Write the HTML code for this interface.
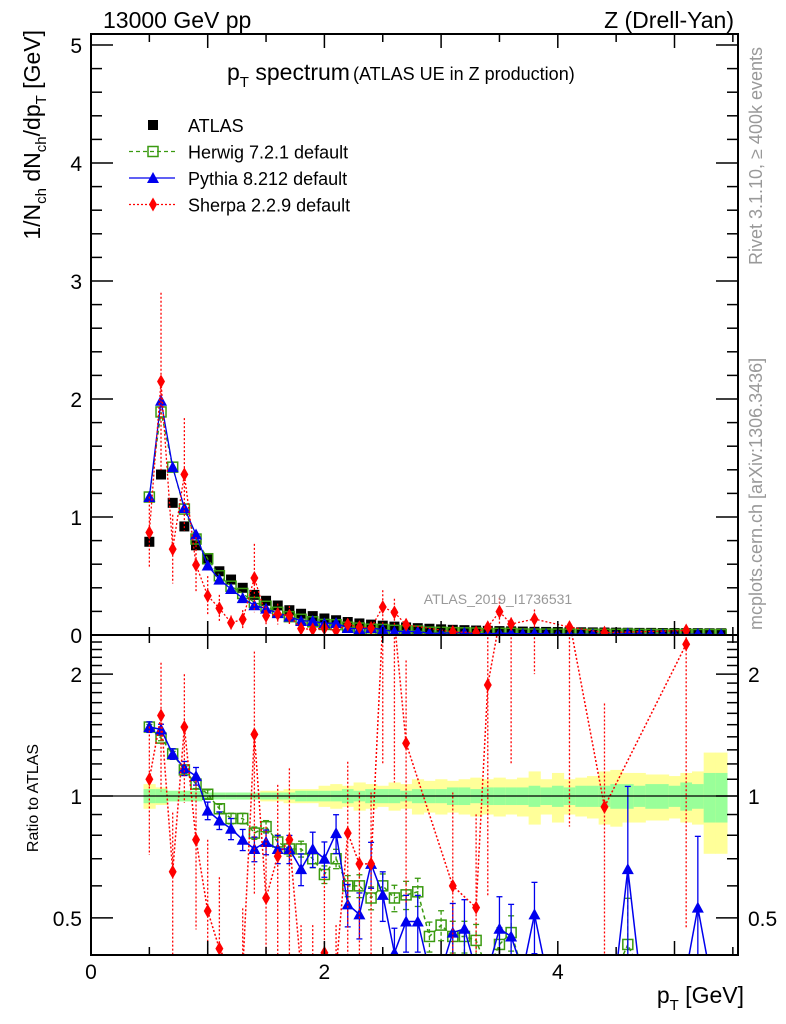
<!DOCTYPE html>
<html><head><meta charset="utf-8"><style>
html,body{margin:0;padding:0;background:#fff;overflow:hidden;width:786px;height:1024px}
svg{display:block;font-family:"Liberation Sans",sans-serif}
</style></head><body>
<svg id="c" width="786" height="1024" viewBox="0 0 786 1024">
<defs>
<clipPath id="cm"><rect x="91" y="34" width="647" height="601"/></clipPath>
<clipPath id="cr"><rect x="91" y="635" width="647" height="320"/></clipPath>
</defs>
<g id="bands" clip-path="url(#cr)"></g>
<g id="main" clip-path="url(#cm)"></g>
<g id="ratio" clip-path="url(#cr)"></g>
<g id="axes"></g>
<text x="103" y="28" font-size="23">13000 GeV pp</text>
<text x="734" y="28" font-size="23" text-anchor="end">Z (Drell-Yan)</text>
<text x="227" y="80" font-size="23">p<tspan font-size="15" dy="7">T</tspan><tspan dy="-7"> spectrum</tspan><tspan font-size="18" dx="3">(ATLAS UE in Z production)</tspan></text>
<text x="498" y="604" font-size="14" fill="#999" text-anchor="middle">ATLAS_2019_I1736531</text>
<text transform="translate(762,265) rotate(-90)" font-size="18" fill="#999">Rivet 3.1.10, ≥ 400k events</text>
<text transform="translate(762,630) rotate(-90)" font-size="18" fill="#999">mcplots.cern.ch [arXiv:1306.3436]</text>
<text transform="translate(40,30) rotate(-90)" font-size="23" text-anchor="end">1/N<tspan font-size="15" dy="6">ch</tspan><tspan dy="-6"> dN</tspan><tspan font-size="15" dy="6">ch</tspan><tspan dy="-6">/dp</tspan><tspan font-size="15" dy="6">T</tspan><tspan dy="-6"> [GeV]</tspan></text>
<text transform="translate(38,798) rotate(-90)" font-size="16" text-anchor="middle">Ratio to ATLAS</text>
<text x="744" y="1003" font-size="23" text-anchor="end">p<tspan font-size="15" dy="7">T</tspan><tspan dy="-7"> [GeV]</tspan></text>
<g id="legend"></g>
</svg>
<script>
const xs=[0.5,0.6,0.7,0.8,0.9,1.0,1.1,1.2,1.3,1.4,1.5,1.6,1.7,1.8,1.9,2.0,2.1,2.2,2.3,2.4,2.5,2.6,2.7,2.8,2.9,3.0,3.1,3.2,3.3,3.4,3.5,3.6,3.7,3.8,3.9,4.0,4.1,4.2,4.3,4.4,4.5,4.6,4.7,4.8,4.9,5.0,5.1,5.2,5.3,5.4];
const atlas=[0.79,1.36,1.12,0.92,0.76,0.64,0.54,0.47,0.40,0.34,0.29,0.25,0.21,0.18,0.16,0.14,0.125,0.11,0.098,0.088,0.079,0.071,0.064,0.058,0.053,0.048,0.044,0.041,0.038,0.035,0.033,0.031,0.029,0.027,0.026,0.025,0.024,0.023,0.022,0.021,0.020,0.019,0.018,0.018,0.017,0.017,0.016,0.016,0.015,0.015];
const herwigRatio=[1.48,1.39,1.27,1.16,1.07,1.01,0.93,0.88,0.88,0.81,0.84,0.77,0.74,0.74,0.70,0.64,0.70,0.60,0.60,0.56,0.60,0.56,0.57,0.58,0.45,0.48,0.45,0.45,0.44,0.3,0.43,0.46,0.3,0.3,0.3,0.3,0.3,0.3,0.3,0.3,0.3,0.43,0.3,0.3,0.3,0.3,0.3,0.3,0.3,0.3];
const pythiaRatio=[1.48,1.46,1.27,1.17,1.12,0.92,0.87,0.83,0.78,0.74,0.77,0.74,0.74,0.66,0.74,0.70,0.81,0.54,0.51,0.68,0.57,0.41,0.49,0.49,0.3,0.3,0.46,0.47,0.3,0.3,0.47,0.45,0.3,0.51,0.3,0.3,0.3,0.3,0.3,0.3,0.3,0.66,0.3,0.3,0.3,0.3,0.3,0.53,0.3,0.3];
const sherpaRatio=[1.10,1.58,0.65,1.48,0.78,0.52,0.42,0.22,0.33,1.42,0.56,0.71,0.78,0.3,0.3,0.41,0.3,0.81,0.68,0.68,3.0,2.7,1.35,null,null,null,0.60,null,0.53,1.88,6.0,3.0,null,5.0,null,null,2.8,null,null,0.94,null,null,null,null,null,null,2.37,null,null,null];
const sherpaErr=[0.35,0.35,0.4,0.35,0.4,0.5,0.5,0.6,0.6,0.6,0.5,0.5,0.5,0.6,0.6,0.6,0.6,0.5,0.5,0.5,0.6,0.6,0.6,0,0,0,0.7,0,0.7,0.7,0.6,0.6,0,0.6,0,0,0.7,0,0,0.8,0,0,0,0,0,0,0.8,0,0,0];
const pythiaErr=[0.03,0.03,0.03,0.04,0.05,0.05,0.05,0.06,0.06,0.07,0.07,0.08,0.08,0.09,0.10,0.10,0.11,0.12,0.13,0.13,0.14,0.15,0.16,0.16,0.17,0.17,0.18,0.18,0.19,0.19,0.2,0.2,0.2,0.2,0.2,0.2,0.2,0.2,0.2,0.2,0.2,0.6,0.2,0.2,0.2,0.2,0.2,0.5,0.2,0.2];
const statBand=[0.04,0.04,0.03,0.03,0.03,0.02,0.02,0.02,0.02,0.02,0.02,0.02,0.02,0.03,0.03,0.03,0.03,0.04,0.03,0.04,0.04,0.04,0.03,0.04,0.04,0.04,0.05,0.05,0.04,0.05,0.05,0.05,0.05,0.06,0.05,0.06,0.05,0.06,0.06,0.06,0.07,0.07,0.06,0.07,0.07,0.06,0.08,0.07,0.14,0.14];
const totBand=[0.07,0.05,0.03,0.03,0.02,0.02,0.02,0.02,0.02,0.02,0.03,0.03,0.04,0.04,0.04,0.06,0.07,0.06,0.08,0.07,0.06,0.08,0.07,0.10,0.09,0.10,0.09,0.10,0.11,0.10,0.11,0.10,0.11,0.15,0.10,0.14,0.10,0.11,0.12,0.15,0.16,0.14,0.14,0.13,0.13,0.12,0.14,0.15,0.28,0.28];

const NS='http://www.w3.org/2000/svg';
const X=v=>91+v*116.7;
const Y=v=>635-Math.min(Math.max(v,-0.05),5.2)*118;
const R=v=>796-405*Math.log10(Math.min(Math.max(v,0.37),2.7));
function mk(t,a,p){const e=document.createElementNS(NS,t);for(const k in a)e.setAttribute(k,a[k]);(p||document.getElementById('c')).appendChild(e);return e;}
const gM=document.getElementById('main'),gR=document.getElementById('ratio'),gB=document.getElementById('bands'),gA=document.getElementById('axes');

xs.forEach((x,i)=>{
  const x0=X(x-0.05),x1=X(x+0.05);
  let e=mk('rect',{x:x0,y:R(1+totBand[i]),width:x1-x0+0.5,height:R(1-totBand[i])-R(1+totBand[i]),fill:'#ffff99'},gB);
  
  
  e=mk('rect',{x:x0,y:R(1+statBand[i]),width:x1-x0+0.5,height:R(1-statBand[i])-R(1+statBand[i]),fill:'#99ff99'},gB);
  
  
});

function marker(type,cx,cy,g,color){
  let e;
  if(type==='sq'){e=mk('rect',{x:cx-5,y:cy-5,width:10,height:10,fill:'#000'},g);}
  else if(type==='osq'){e=mk('rect',{x:cx-5,y:cy-5,width:10,height:10,fill:'none',stroke:'#3a9a10','stroke-width':1.5},g);}
  else if(type==='tri'){e=mk('polygon',{points:`${cx},${cy-6} ${cx-6},${cy+5} ${cx+6},${cy+5}`,fill:'#0000ee'},g);}
  else {e=mk('polygon',{points:`${cx},${cy-7} ${cx-4},${cy} ${cx},${cy+7} ${cx+4},${cy}`,fill:'#ff0000'},g);}
  return e;
}
function series(vals,ratio,yfn,g,color,dash,type,name,errs,caps){
  const pts=[];
  vals.forEach((v,i)=>{if(v!==null&&v>0)pts.push([X(xs[i]),yfn(v),i]);});
  const pl=mk('polyline',{points:pts.map(p=>p[0]+','+p[1]).join(' '),fill:'none',stroke:color,'stroke-width':ratio?1.5:1.3,'stroke-dasharray':dash},g);
  
  
  pts.forEach(p=>{
    if(errs&&errs[p[2]]>0){
      const v=vals[p[2]],er=errs[p[2]];
      const ya=yfn(v*(1+er)),yb=yfn(Math.max(v*(1-er),0.001));
      const b=mk('line',{x1:p[0],x2:p[0],y1:ya,y2:yb,stroke:color,'stroke-width':1.3,'stroke-dasharray':dash},g);
      
      
      if(caps){
        mk('line',{x1:p[0]-3,x2:p[0]+3,y1:ya,y2:ya,stroke:color,'stroke-width':1.3},g);
        mk('line',{x1:p[0]-3,x2:p[0]+3,y1:yb,y2:yb,stroke:color,'stroke-width':1.3},g);
      }
    }
    const m=marker(type,p[0],p[1],g,color);
    
    
  });
}
const mul=(r)=>r.map((v,i)=>v===null?null:v*atlas[i]);
const am=mk('g',{},gM);
atlas.forEach((v,i)=>{const m=marker('sq',X(xs[i]),Y(v),am);});
series(mul(herwigRatio),false,Y,gM,'#3a9a10','4,3','osq','herwig');
series(mul(pythiaRatio),false,Y,gM,'#0000ee','','tri','pythia');
series(mul(sherpaRatio),false,Y,gM,'#ff0000','2,2','dia','sherpa',sherpaErr);
series(herwigRatio,true,R,gR,'#3a9a10','4,3','osq','herwig-ratio',pythiaErr.map(e=>e*0.5),true);
series(pythiaRatio,true,R,gR,'#0000ee','','tri','pythia-ratio',pythiaErr,true);
series(sherpaRatio,true,R,gR,'#ff0000','2,2','dia','sherpa-ratio',sherpaErr);
let l=mk('line',{x1:91,x2:738,y1:R(1),y2:R(1),stroke:'#000','stroke-width':1.3},gA);


for(const [y0,y1,n] of [[34,635,'main-frame'],[635,955,'ratio-frame']]){
  const f=mk('rect',{x:91,y:y0,width:647,height:y1-y0,fill:'none',stroke:'#000','stroke-width':2},gA);
  
}
const xTickLabels=['0','2','4'];
for(let v=0;v<=5.5;v+=0.5){
  const x=X(v),L=(v%1===0)?14:8;
  for(const [yb,yt] of [[635,34],[955,635]]){
    mk('line',{x1:x,x2:x,y1:yb,y2:yb-L,stroke:'#000','stroke-width':1.5},gA);
    mk('line',{x1:x,x2:x,y1:yt,y2:yt+L,stroke:'#000','stroke-width':1.5},gA);
  }
}
xTickLabels.forEach(t=>{const e=mk('text',{x:X(+t),y:979,'font-size':21,'text-anchor':'middle'},gA);e.textContent=t;});
const yTickLabels=['0','1','2','3','4','5'];
for(let k=0;k<=25;k++){const v=k*0.2,y=Y(v),L=(k%5===0)?22:11;
  mk('line',{x1:91,x2:91+L,y1:y,y2:y,stroke:'#000','stroke-width':1.5},gA);
  mk('line',{x1:738,x2:738-L,y1:y,y2:y,stroke:'#000','stroke-width':1.5},gA);}
yTickLabels.forEach(t=>{const e=mk('text',{x:82,y:Y(+t)+8,'font-size':21,'text-anchor':'end'},gA);e.textContent=t;});
const rTickLabels=['0.5','1','2'];
const rMinor=[0.5,0.6,0.7,0.8,0.9,1,1.1,1.2,1.3,1.4,1.5,1.6,1.7,1.8,1.9,2,2.1,2.2,2.3,2.4,2.5];
rMinor.forEach(v=>{const y=R(v),L=rTickLabels.includes(String(v))?22:11;
  mk('line',{x1:91,x2:91+L,y1:y,y2:y,stroke:'#000','stroke-width':1.5},gA);
  mk('line',{x1:738,x2:738-L,y1:y,y2:y,stroke:'#000','stroke-width':1.5},gA);});
rTickLabels.forEach(t=>{
  let e=mk('text',{x:82,y:R(+t)+8,'font-size':21,'text-anchor':'end'},gA);e.textContent=t;
  e=mk('text',{x:748,y:R(+t)+8,'font-size':21},gA);e.textContent=t;
});
const lg=document.getElementById('legend');
const entries=[['ATLAS','sq','#000',''],['Herwig 7.2.1 default','osq','#3a9a10','4,3'],['Pythia 8.212 default','tri','#0000ee',''],['Sherpa 2.2.9 default','dia','#ff0000','2,2']];
entries.forEach((en,i)=>{
  const y=125+i*26.5;
  const g=mk('g',{},lg);
  
  
  if(i>0)mk('line',{x1:129,x2:175,y1:y,y2:y,stroke:en[2],'stroke-width':1.3,'stroke-dasharray':en[3]},g);
  marker(en[1],153,y,g,en[2]);
  const t=mk('text',{x:188,y:y+7,'font-size':18},g);t.textContent=en[0];
});
</script>
</body></html>
